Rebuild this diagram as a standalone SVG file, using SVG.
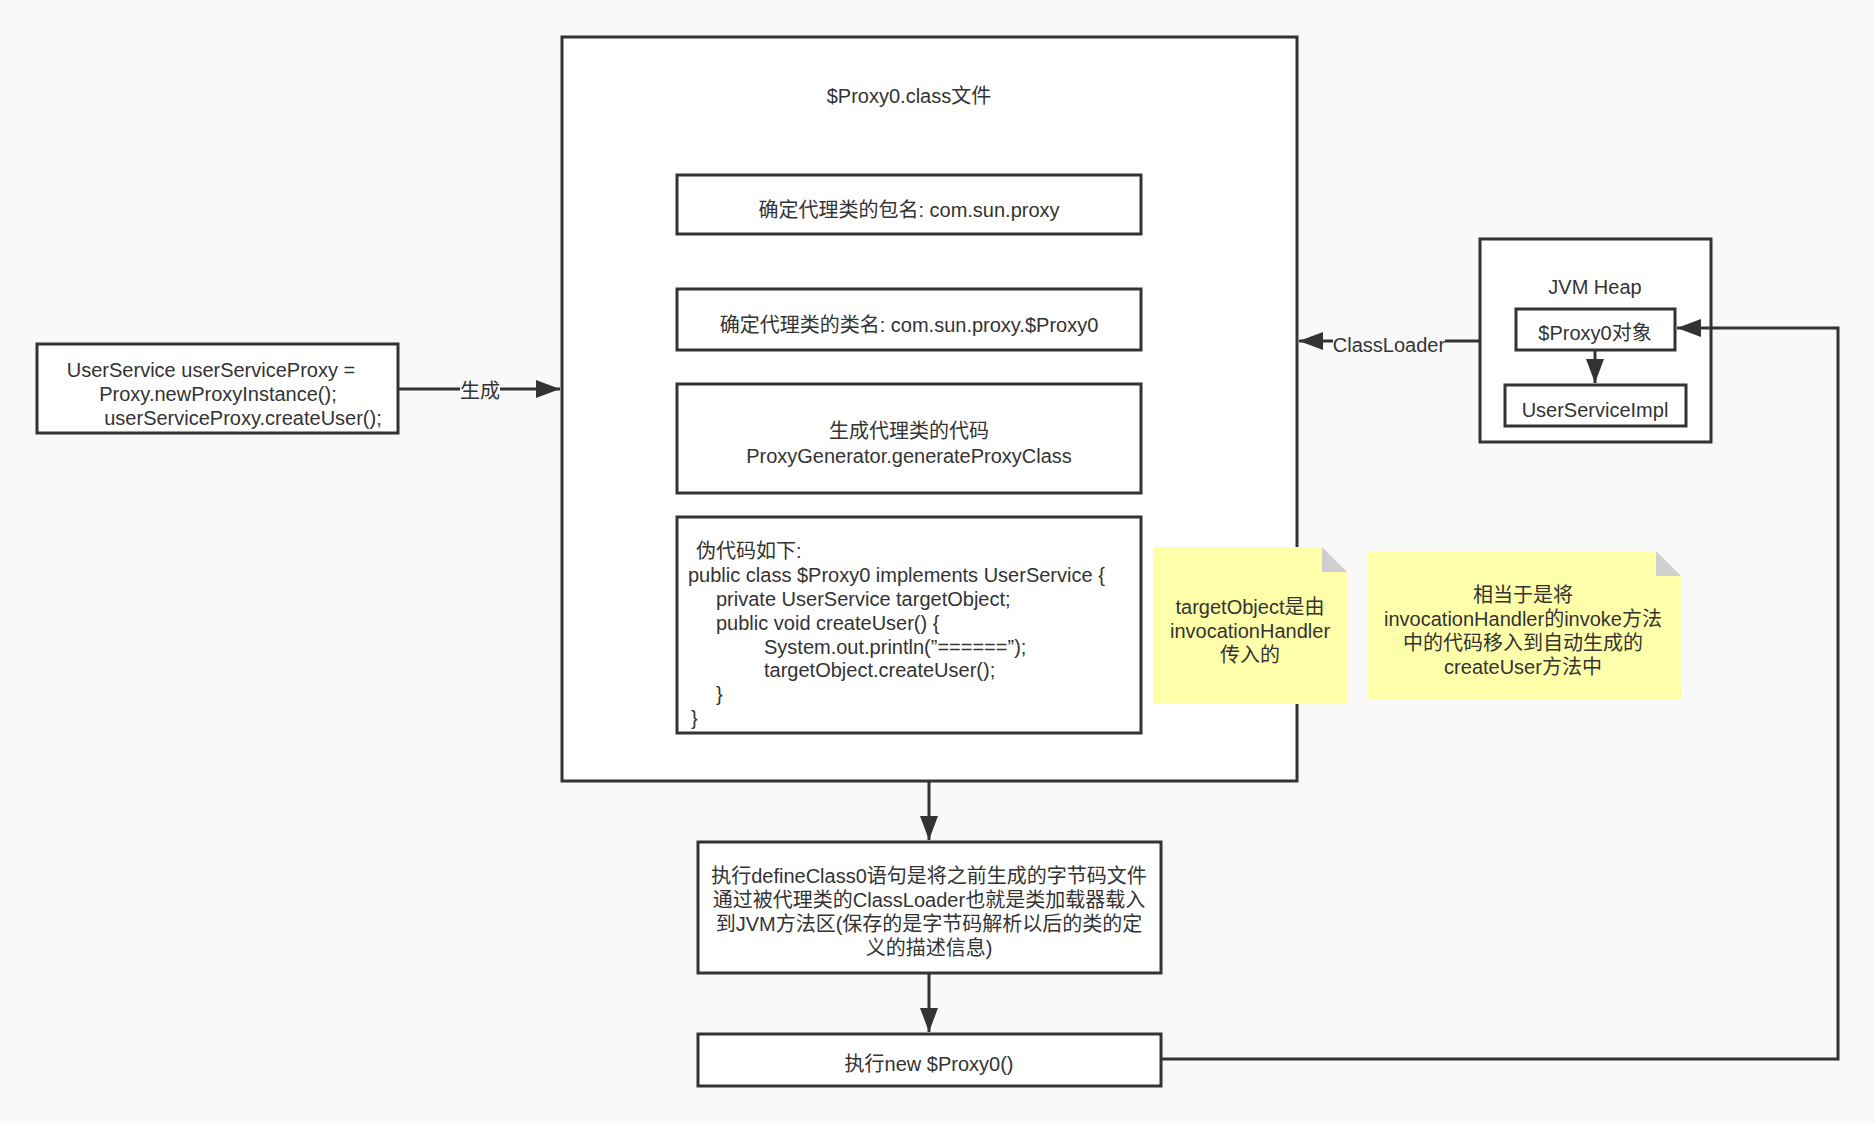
<svg xmlns="http://www.w3.org/2000/svg" width="1875" height="1123" viewBox="0 0 1875 1123">
<defs>
<style>
text{font-family:"Liberation Sans","Noto Sans CJK SC",sans-serif;font-size:20px;fill:#333;text-anchor:middle;transform:translateY(1.5px)}
.box{fill:#fff;stroke:#333;stroke-width:3}
.note{fill:#ffffaa}
.fold{fill:#cfcfcf}
.line{fill:none;stroke:#333;stroke-width:3}
.lbl{fill:#f9f9f9}
.st{text-anchor:start}
</style>
<marker id="arr" markerUnits="userSpaceOnUse" markerWidth="26" markerHeight="20" refX="24" refY="10" orient="auto">
<path d="M0,1 L24,10 L0,19 Z" fill="#333"/>
</marker>
</defs>
<rect width="1875" height="1123" fill="#f9f9f9"/>

<g id="caller">
<rect class="box" x="37" y="344" width="361" height="89"/>
<text x="211" y="375">UserService userServiceProxy =</text>
<text x="218" y="399">Proxy.newProxyInstance();</text>
<text x="243" y="423">userServiceProxy.createUser();</text>
</g>

<g id="proxy-class">
<rect class="box" x="562" y="37" width="735" height="744"/>
<text x="909" y="101">$Proxy0.class文件</text>
</g>

<g id="package-name">
<rect class="box" x="677" y="175" width="464" height="59"/>
<text x="909" y="215">确定代理类的包名: com.sun.proxy</text>
</g>

<g id="class-name">
<rect class="box" x="677" y="289" width="464" height="61"/>
<text x="909" y="330">确定代理类的类名: com.sun.proxy.$Proxy0</text>
</g>

<g id="generate">
<rect class="box" x="677" y="384" width="464" height="109"/>
<text x="909" y="436">生成代理类的代码</text>
<text x="909" y="461">ProxyGenerator.generateProxyClass</text>
</g>

<g id="pseudo-code">
<rect class="box" x="677" y="517" width="464" height="216"/>
<text class="st" x="696" y="556">伪代码如下:</text>
<text class="st" x="688" y="580">public class $Proxy0 implements UserService {</text>
<text class="st" x="716" y="604">private UserService targetObject;</text>
<text class="st" x="716" y="628">public void createUser() {</text>
<text class="st" x="764" y="652">System.out.println(”======”);</text>
<text class="st" x="764" y="675">targetObject.createUser();</text>
<text class="st" x="716" y="699">}</text>
<text class="st" x="691" y="723">}</text>
</g>

<g id="note-target">
<path class="note" d="M1153,547 L1322,547 L1347,572 L1347,704 L1153,704 Z"/>
<path class="fold" d="M1322,547 L1322,572 L1347,572 Z"/>
<text x="1250" y="612">targetObject是由</text>
<text x="1250" y="636">invocationHandler</text>
<text x="1250" y="660">传入的</text>
</g>

<g id="note-invoke">
<path class="note" d="M1367,551 L1656,551 L1681,576 L1681,700 L1367,700 Z"/>
<path class="fold" d="M1656,551 L1656,576 L1681,576 Z"/>
<text x="1523" y="600">相当于是将</text>
<text x="1523" y="624">invocationHandler的invoke方法</text>
<text x="1523" y="648">中的代码移入到自动生成的</text>
<text x="1523" y="672">createUser方法中</text>
</g>

<g id="jvm-heap">
<rect class="box" x="1480" y="239" width="231" height="203"/>
<text x="1595" y="292">JVM Heap</text>
</g>

<g id="proxy-object">
<rect class="box" x="1516" y="309" width="159" height="41"/>
<text x="1595" y="338">$Proxy0对象</text>
</g>

<g id="user-service-impl">
<rect class="box" x="1505" y="385" width="181" height="41"/>
<text x="1595" y="415">UserServiceImpl</text>
</g>

<g id="define-class">
<rect class="box" x="698" y="842" width="463" height="131"/>
<text x="929" y="881">执行defineClass0语句是将之前生成的字节码文件</text>
<text x="929" y="905">通过被代理类的ClassLoader也就是类加载器载入</text>
<text x="929" y="929">到JVM方法区(保存的是字节码解析以后的类的定</text>
<text x="929" y="953">义的描述信息)</text>
</g>

<g id="new-proxy">
<rect class="box" x="698" y="1034" width="463" height="52"/>
<text x="929" y="1069">执行new $Proxy0()</text>
</g>

<g id="connectors">
<path class="line" d="M398,389 L560,389" marker-end="url(#arr)"/>
<rect class="lbl" x="460" y="377" width="40" height="24"/>
<text x="480" y="396">生成</text>
<path class="line" d="M1480,341 L1299,341" marker-end="url(#arr)"/>
<rect class="lbl" x="1333" y="330" width="112" height="24"/>
<text x="1389" y="350">ClassLoader</text>
<path class="line" d="M1595,350 L1595,383" marker-end="url(#arr)"/>
<path class="line" d="M929,781 L929,840" marker-end="url(#arr)"/>
<path class="line" d="M929,973 L929,1032" marker-end="url(#arr)"/>
<path class="line" d="M1161,1059 L1838,1059 L1838,328 L1677,328" marker-end="url(#arr)"/>
</g>
</svg>
